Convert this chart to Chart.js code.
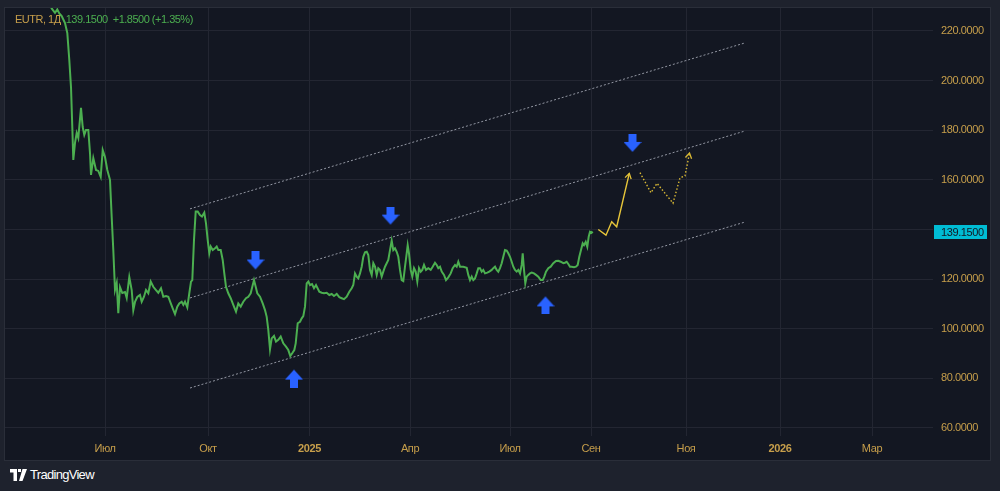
<!DOCTYPE html>
<html lang="ru">
<head>
<meta charset="UTF-8">
<title>EUTR, 1Д</title>
<style>
  html, body { margin: 0; padding: 0; width: 1000px; height: 491px; overflow: hidden; background: #1e222d; font-family: "Liberation Sans", Arial, sans-serif; }
  .pane { position: absolute; left: 4px; top: 7px; width: 985px; height: 452px; background: #131722; border: 1px solid #2a2e39; }
  /* the library keeps a 5px inset at top/left, so the canvas starts 5px earlier */
  .pane .box { position: absolute; left: -5px; top: -5px; width: 990px; height: 457px; }
  .legend { position: absolute; left: 15px; top: 13px; font-size: 11px; letter-spacing: -0.5px; color: #c79f4b; white-space: pre; }
  .legend .g { color: #4caf50; }
  .brand { position: absolute; left: 10px; top: 467px; display: flex; align-items: center; gap: 3px; color: #ffffff; font-size: 13px; letter-spacing: -0.7px; }
</style>
<script src="https://cdn.jsdelivr.net/npm/chart.js"></script>
</head>
<body>
<div class="pane"><div class="box"><canvas id="chart"></canvas></div></div>
<div class="legend">EUTR, 1Д  <span class="g">139.1500  +1.8500 (+1.35%)</span></div>
<div class="brand">
  <svg width="17" height="12" viewBox="0 0 17 12"><path d="M0 0h7v12H3.5V3.5H0z M8 0h3v3H8z M12.5 0H17l-4.5 12H9z" fill="#fff"/></svg>
  <span>TradingView</span>
</div>

<script>
// daily close (x = bar position on the time axis)
const priceX = [43,47,50,52.3,54.3,56.7,60,62.3,64.3,66,67.3,68.3,70,71.7,73.3,76,77.7,79.3,81,83.3,85,86,88.3,91,93.3,95.7,97.7,100,102.3,105,106.7,108.3,110,111.7,113.3,115,117.3,120,121.7,124.3,126.7,128.3,130,132.3,135,136.7,139,141,143.3,145.7,148.3,151,153.3,156,158.3,161,163.3,165.7,167.7,170,172.3,174.3,176.7,178.3,180,182.3,184.3,186,187.3,189,190.7,192.7,195,197,199.3,201,202.7,204.3,205.7,207.7,210,211.7,213.3,215.7,217.7,219.3,221,223.3,225.7,228.3,231,233.3,235.7,238.3,241,243.3,245.7,247.3,249,250.7,252.3,255,257.7,260,261.7,263.3,265,266.7,269,271,273.3,275.7,278.3,281,283.3,285.3,287.7,289.3,290.7,292.7,295,296.7,298.3,300,301.7,303.3,305,307,309,311,314.3,316.7,319,321.7,324.3,326.7,329,331.7,334.3,336.7,339,341.7,344.3,346.7,348.3,350,351.7,353.3,355,356.7,358.3,360,361.7,363.3,365,366.7,368.3,370,371.7,373.3,375,376.7,378.3,380,381.7,383.3,385,386.7,388.3,390,391.7,393.3,395,396.7,398.3,400,401.7,402.7,404,405.7,407.3,409,410.7,412.3,414,415.7,417.3,419,421,423.3,425.7,427.7,430,431.7,433.3,435,436.7,439,441,443.3,445.7,447.7,450,451.7,453.3,455,458.3,461.7,463.3,465,466.7,468.3,470,471.7,473.3,475,476.7,478.3,480,482.3,484.3,486.7,488.3,490,491.7,493.3,495,496.7,498.3,500,501.7,503.3,505,506.7,508.3,510,511.7,513.3,515,516.7,517.7,519,520.3,521.7,523.3,525,526.7,529,531,533.3,535.7,537.7,539.3,541,543.3,545.7,548.3,551,553.3,555.7,558.3,560,561.7,563.3,565,566.7,569,571,572.7,574.3,576,577.7,579,580.7,582.3,583.7,585,586.7,587.7];
const priceY = [231.7,228.9,227.3,228.7,227.1,226.0,223.2,219.2,208.3,197.4,181.3,168.0,174.9,178.9,176.9,189.0,181.3,178.1,180.1,180.1,170.8,162.0,168.8,164.0,163.6,161.2,172.0,169.2,164.0,160.0,145.0,131.7,115.6,118.4,106.3,116.8,114.4,114.8,112.4,120.8,115.6,107.5,110.8,112.8,113.6,110.9,112.9,115.6,114.3,119.0,116.9,115.6,114.5,116.3,112.9,113.2,112.9,110.3,108.2,105.9,108.9,110.2,110.9,109.6,110.9,108.6,114.3,119.0,119.6,135.8,147.2,147.2,145.8,145.2,146.8,142.5,135.8,130.4,133.1,131.7,132.4,133.1,131.7,131.7,127.7,122.3,116.9,114.3,112.3,109.6,106.9,110.2,108.9,110.9,112.3,112.9,114.3,116.9,119.6,116.9,114.3,112.9,110.2,107.5,104.8,99.5,91.7,96.1,97.1,94.8,95.5,96.8,94.1,92.8,91.4,89.0,90.4,91.4,94.1,102.2,102.8,104.2,105.1,108.9,118.3,119.0,117.6,118.0,116.3,117.6,114.9,114.5,114.3,114.5,113.6,114.0,113.2,114.0,112.7,112.3,111.9,112.9,114.9,116.3,117.6,122.3,121.0,120.3,122.3,125.0,129.0,130.8,131.0,129.7,123.7,121.7,126.4,125.0,121.7,124.4,123.7,121.0,123.0,125.0,126.4,127.7,131.7,135.5,131.7,132.4,131.0,129.0,123.7,119.6,119.2,125.0,130.4,133.7,130.4,123.7,121.0,124.4,123.0,119.0,124.4,123.0,123.7,125.7,123.7,124.4,123.7,125.0,126.6,125.7,124.4,125.0,123.0,121.7,119.6,120.7,122.3,124.4,125.7,125.0,127.0,125.0,125.0,124.6,121.7,119.6,121.0,119.6,120.3,122.3,124.4,124.4,123.0,123.7,122.3,122.6,123.0,123.7,124.4,125.0,123.7,123.0,124.4,126.4,129.0,131.7,131.5,130.4,129.0,127.0,125.0,123.7,123.0,123.7,122.3,125.7,130.4,123.7,118.3,121.0,121.7,122.3,122.6,122.3,121.7,121.0,119.6,119.6,121.0,123.0,124.4,125.0,126.4,127.3,127.4,127.0,126.4,126.6,127.0,126.1,125.0,125.0,124.8,125.0,125.7,129.0,131.7,134.4,133.7,135.0,133.0,137.1,139.1,138.7,139.15];
const lastPrice = 139.15;

// parallel channel
const channelX = [185, 740];
const channelUpper = [148.3, 215.2];
const channelMiddle = [112.4, 179.7];
const channelLower = [76.1, 143.0];

// projected path (solid leg, then dotted scenario)
const forecastX = [593.3, 601, 606.7, 611.7, 624.3];
const forecastY = [140.0, 137.7, 143.1, 141.1, 162.6];
const scenarioX = [635, 646, 652, 668, 675, 680, 684.5];
const scenarioY = [162.9, 154.8, 158.6, 150.6, 160.8, 161.6, 170.8];

// blue markers
const downArrowX = [250.5, 385.5, 627.5];
const downArrowY = [127.3, 145.4, 174.7];
const upArrowX = [289, 540.5];
const upArrowY = [80.1, 109.6];

// axes
const timeTickPos = [100, 203, 304.5, 405, 505, 586, 681, 775, 867];
const timeTickLabels = ['Июл', 'Окт', '2025', 'Апр', 'Июл', 'Сен', 'Ноя', '2026', 'Мар'];
const priceTicks = [60, 80, 100, 120, 140, 160, 180, 200, 220];

const gold = '#c79f4b';
const gridColor = '#232632';
const pts = (xs, ys) => xs.map((x, i) => ({ x: x, y: ys[i] }));

function arrowImage(up) {
    const c = document.createElement('canvas');
    c.width = 18; c.height = 19;
    const ctx = c.getContext('2d');
    if (up) { ctx.translate(0, 19); ctx.scale(1, -1); }
    ctx.fillStyle = '#2962ff';
    ctx.beginPath();
    ctx.moveTo(5, 0); ctx.lineTo(13, 0); ctx.lineTo(13, 8); ctx.lineTo(18, 8);
    ctx.lineTo(9, 18); ctx.lineTo(0, 8); ctx.lineTo(5, 8);
    ctx.closePath();
    ctx.fill();
    return c;
}

const arrowHeads = {
    id: 'arrowHeads',
    afterDatasetsDraw(chart) {
        const ctx = chart.ctx;
        chart.data.datasets.forEach((ds, i) => {
            if (!ds.arrowHead) return;
            const d = chart.getDatasetMeta(i).data;
            const a = d[d.length - 2], b = d[d.length - 1];
            const ang = Math.atan2(b.y - a.y, b.x - a.x);
            ctx.save();
            ctx.strokeStyle = ds.borderColor;
            ctx.lineWidth = 1.3;
            ctx.beginPath();
            ctx.moveTo(b.x - 6 * Math.cos(ang - 0.55), b.y - 6 * Math.sin(ang - 0.55));
            ctx.lineTo(b.x, b.y);
            ctx.lineTo(b.x - 6 * Math.cos(ang + 0.55), b.y - 6 * Math.sin(ang + 0.55));
            ctx.stroke();
            ctx.restore();
        });
    }
};

const lastPriceLabel = {
    id: 'lastPriceLabel',
    beforeDraw(chart) { chart.ctx.letterSpacing = '-0.4px'; },
    afterDraw(chart) {
        const ctx = chart.ctx;
        const y = chart.scales.y.getPixelForValue(lastPrice);
        const x = chart.chartArea.right + 1;
        ctx.save();
        ctx.fillStyle = '#00bcd4';
        ctx.fillRect(x, Math.round(y) - 7, 53, 14);
        ctx.fillStyle = '#131722';
        ctx.font = '11px "Liberation Sans", Arial, sans-serif';
        ctx.textBaseline = 'middle';
        ctx.fillText(lastPrice.toFixed(4), x + 7, Math.round(y) + 0.5);
        ctx.restore();
    }
};

const channelStyle = { borderColor: 'rgba(190,193,205,0.75)', borderWidth: 1, borderDash: [2, 2], pointRadius: 0 };

new Chart(document.getElementById('chart'), {
    type: 'line',
    data: {
        datasets: [
            { type: 'scatter', data: pts(downArrowX, downArrowY), pointStyle: arrowImage(false) },
            { type: 'scatter', data: pts(upArrowX, upArrowY), pointStyle: arrowImage(true) },
            { data: pts(priceX, priceY), borderColor: '#4caf50', borderWidth: 2, pointRadius: 0, tension: 0 },
            { data: pts(forecastX, forecastY), borderColor: '#e6c53a', borderWidth: 1.4, pointRadius: 0, arrowHead: true },
            { data: pts(scenarioX, scenarioY), borderColor: '#d9b935', borderWidth: 1.4, borderDash: [1.5, 2], pointRadius: 0, arrowHead: true },
            { data: pts(channelX, channelUpper), ...channelStyle },
            { data: pts(channelX, channelMiddle), ...channelStyle },
            { data: pts(channelX, channelLower), ...channelStyle }
        ]
    },
    options: {
        responsive: true,
        maintainAspectRatio: false,
        animation: false,
        layout: { padding: 0 },
        plugins: { legend: { display: false }, tooltip: { enabled: false } },
        scales: {
            x: {
                type: 'linear', min: 0, max: 928,
                afterBuildTicks: s => { s.ticks = timeTickPos.map(v => ({ value: v })); },
                afterFit: s => { s.height = 24; s.paddingLeft = 0; s.paddingRight = 0; },
                grid: { color: gridColor, drawTicks: false },
                border: { display: false },
                ticks: {
                    color: gold, autoSkip: false, maxRotation: 0, padding: 6,
                    font: c => ({ family: '"Liberation Sans", Arial, sans-serif', size: 11, weight: /^\d{4}$/.test(timeTickLabels[c.index]) ? 'bold' : 'normal' }),
                    callback: (v, i) => timeTickLabels[i]
                }
            },
            y: {
                position: 'right', min: 56.76, max: 229.27,
                afterBuildTicks: s => { s.ticks = priceTicks.map(v => ({ value: v })); },
                afterFit: s => { s.width = 57; s.paddingTop = 0; s.paddingBottom = 0; },
                grid: { color: gridColor, drawTicks: false },
                border: { display: false },
                ticks: {
                    color: gold, padding: 8,
                    font: { family: '"Liberation Sans", Arial, sans-serif', size: 11 },
                    callback: v => Math.abs(v - lastPrice) < 8 ? '' : v.toFixed(4)
                }
            }
        }
    },
    plugins: [arrowHeads, lastPriceLabel]
});
</script>
</body>
</html>
